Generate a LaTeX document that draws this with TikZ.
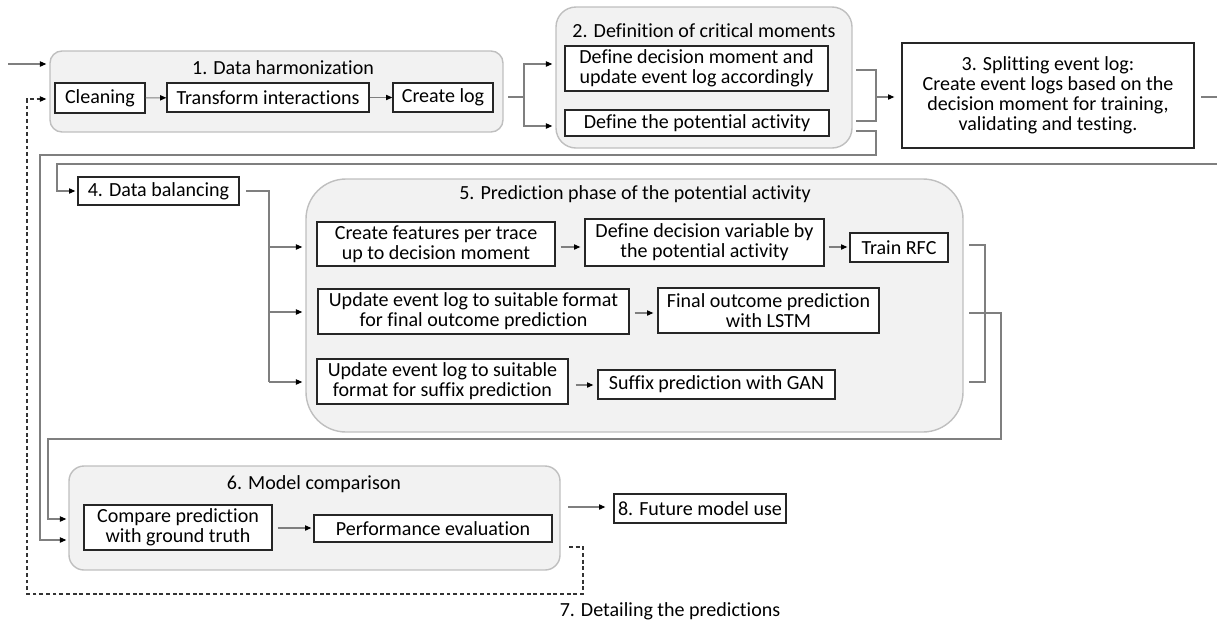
\documentclass[tikz,border=0pt]{standalone}
\usepackage{fontspec}
\setmainfont{Carlito}[Ligatures=NoCommon]
\usetikzlibrary{arrows.meta,fit,calc}
\definecolor{grpfill}{HTML}{F2F2F2}
\definecolor{grpline}{HTML}{BFBFBF}
\definecolor{conline}{HTML}{7F7F7F}
\newcommand\pbx[6]{\node[pbox, minimum width={(#4-#2)*0.02cm}, minimum height={(#5-#3)*0.02cm}] (#1) at ({(#2+#4)/2},{(#3+#5)/2}) {#6};}
\begin{document}
\begin{tikzpicture}[x=0.02cm,y=-0.02cm,
  every node/.style={font=\fontsize{11.4}{11.3}\selectfont},
  pbox/.style={draw=black!85, line width=0.75pt, fill=white, inner sep=0pt, align=center},
  grp/.style={draw=grpline, line width=0.8pt, fill=grpfill, inner sep=0pt},
  conn/.style={draw=conline, line width=0.6pt},
  arr/.style={conn, -{Triangle[length=3.6pt,width=3pt,fill=black,color=black]}},
  dsh/.style={draw=black!80, line width=0.6pt, dash pattern=on 2.2pt off 1.6pt},
  darr/.style={dsh, -{Triangle[length=3.6pt,width=3pt,fill=black,color=black]}}]
\useasboundingbox (0,0) rectangle (1217,623);

% group boxes
\node[grp, rounded corners=0.24cm, fit={(50,51) (503,132)}] (g1) {};
\node[grp, rounded corners=0.4cm, fit={(556,7) (852,148)}] (g2) {};
\node[grp, rounded corners=0.8cm, fit={(306,179) (963,432)}] (g5) {};
\node[grp, rounded corners=0.3cm, fit={(69,466) (560,570)}] (g6) {};

% titles
\node (t1) at (283,68) {1. Data harmonization};
\node (t2) at (704,31) {2. Definition of critical moments};
\node (t5) at (635,194) {5. Prediction phase of the potential activity};
\node (t6) at (314,484) {6. Model comparison};
\node (t7) at (670,611) {7. Detailing the predictions};

% process boxes
\pbx{clean}{55}{83}{145}{113}{Cleaning}
\pbx{trans}{167}{83}{369}{112}{Transform interactions}
\pbx{clog}{393}{83}{493}{112}{Create log}
\pbx{dm}{565}{46}{828}{91}{Define decision moment and\\update event log accordingly}
\pbx{pa}{565}{110}{829}{136}{Define the potential activity}
\pbx{n3}{902}{43}{1194}{148}{3. Splitting event log:\\Create event logs based on the\\decision moment for training,\\validating and testing.}
\pbx{n4}{78}{177}{239}{205}{4. Data balancing}
\pbx{cf}{317}{222}{555}{266}{Create features per trace\\up to decision moment}
\pbx{dv}{585}{219}{824}{266}{Define decision variable by\\the potential activity}
\pbx{rfc}{850}{233}{948}{262}{Train RFC}
\pbx{uf}{318}{289}{629}{334}{Update event log to suitable format\\for final outcome prediction}
\pbx{fo}{658}{288}{879}{333}{Final outcome prediction\\with LSTM}
\pbx{us}{317}{359}{568}{404}{Update event log to suitable\\format for suffix prediction}
\pbx{sg}{598}{370}{835}{399}{Suffix prediction with GAN}
\pbx{cp}{84}{505}{272}{550}{Compare prediction\\with ground truth}
\pbx{pe}{314}{515}{552}{542}{Performance evaluation}
\pbx{n8}{614}{494}{786}{523}{8. Future model use}

% helper coordinates
\coordinate (e0) at (8,64);
\coordinate (c0) at (508,97);
\coordinate (j1) at (524,97);
\coordinate (y64) at (0,64);
\coordinate (y126) at (0,126);
\coordinate (k1) at (856,70);
\coordinate (k2) at (876,70);
\coordinate (k3) at (876,121);
\coordinate (k4) at (856,121);
\coordinate (k5) at (876,97);
\coordinate (l1) at (856,131);
\coordinate (l2) at (876,131);
\coordinate (l3) at (876,155);
\coordinate (l4) at (40,155);
\coordinate (l5) at (40,540);
\coordinate (m1) at (1201,97);
\coordinate (m2) at (1217,97);
\coordinate (o1) at (1217,164);
\coordinate (o2) at (57,164);
\coordinate (o3) at (57,191);
\coordinate (p1) at (246,191);
\coordinate (p2) at (269,191);
\coordinate (p3) at (269,247);
\coordinate (p4) at (269,312);
\coordinate (p5) at (269,382);
\coordinate (q247) at (0,247);
\coordinate (q313) at (0,313);
\coordinate (q385) at (0,385);
\coordinate (s1) at (969,245);
\coordinate (s2) at (985,245);
\coordinate (s3) at (985,382);
\coordinate (s4) at (969,382);
\coordinate (u1) at (969,313);
\coordinate (u2) at (1001,313);
\coordinate (u3) at (1001,439);
\coordinate (u4) at (48,439);
\coordinate (u5) at (48,519);
\coordinate (q528) at (0,528);
\coordinate (w1) at (568,507);
\coordinate (v1) at (569,547);
\coordinate (v2) at (583,547);
\coordinate (v3) at (583,594);
\coordinate (v4) at (27,594);
\coordinate (v5) at (27,99);

% connectors
\draw[arr, shorten >=0.06cm] (e0) -- (e0 -| g1.west);
\draw[arr] (clean) -- (trans);
\draw[arr] (trans) -- (clog);
\draw[conn] (c0) -- (j1);
\draw[arr, shorten >=0.06cm] (j1) |- (g2.west |- y64);
\draw[arr, shorten >=0.06cm] (j1) |- (g2.west |- y126);
\draw[conn] (k1) -- (k2) -- (k3) -- (k4);
\draw[arr, shorten >=0.14cm] (k5) -- (n3.west |- k5);
\draw[arr, shorten >=0.04cm] (l1) -- (l2) -- (l3) -- (l4) -- (l5) -- (g6.west |- l5);
\draw[conn] (m1) -- (m2);
\draw[arr, shorten >=0.04cm] (o1) -- (o2) -- (o3) -- (n4.west |- o3);
\draw[conn] (p1) -- (p2) -- (p5);
\draw[arr, shorten >=0.06cm] (p3) -- (g5.west |- p3);
\draw[arr, shorten >=0.06cm] (p4) -- (g5.west |- p4);
\draw[arr, shorten >=0.06cm] (p5) -- (g5.west |- p5);
\draw[arr, shorten <=0.1cm, shorten >=0.08cm] (cf.east |- q247) -- (dv.west |- q247);
\draw[arr, shorten <=0.08cm, shorten >=0.04cm] (dv.east |- q247) -- (rfc.west |- q247);
\draw[arr, shorten <=0.1cm, shorten >=0.08cm] (uf.east |- q313) -- (fo.west |- q313);
\draw[arr, shorten <=0.14cm, shorten >=0.08cm] (us.east |- q385) -- (sg.west |- q385);
\draw[conn] (s1) -- (s2) -- (s3) -- (s4);
\draw[arr, shorten >=0.04cm] (u1) -- (u2) -- (u3) -- (u4) -- (u5) -- (g6.west |- u5);
\draw[arr, shorten <=0.1cm, shorten >=0.04cm] (cp.east |- q528) -- (pe.west |- q528);
\draw[arr, shorten >=0.16cm] (w1) -- (n8.west |- w1);
\draw[darr, shorten >=0.06cm] (v1) -- (v2) -- (v3) -- (v4) -- (v5) -- (g1.west |- v5);
\end{tikzpicture}
\end{document}
